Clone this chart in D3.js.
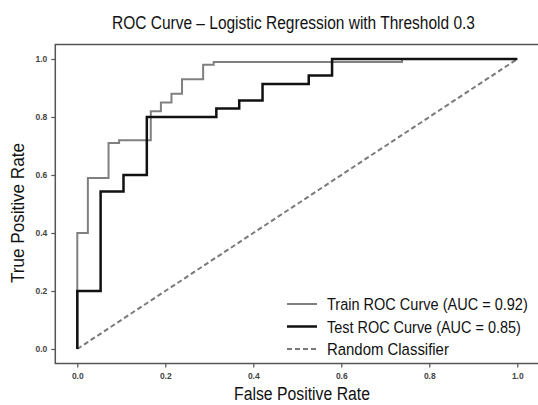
<!DOCTYPE html>
<html><head><meta charset="utf-8">
<script src="https://cdn.jsdelivr.net/npm/d3@7"></script>
<style>body{margin:0;background:#fff}svg{display:block}</style>
</head><body>
<script>
const trainFpr = [0,0,0.024,0.024,0.071,0.071,0.095,0.095,0.167,0.167,0.19,0.19,0.214,0.214,0.238,0.238,0.286,0.286,0.31,0.31,0.738,0.738,1];
const trainTpr = [0,0.40,0.40,0.59,0.59,0.71,0.71,0.72,0.72,0.82,0.82,0.85,0.85,0.88,0.88,0.93,0.93,0.98,0.98,0.99,0.99,1,1];
const testFpr = [0,0,0.053,0.053,0.105,0.105,0.158,0.158,0.316,0.316,0.368,0.368,0.421,0.421,0.526,0.526,0.579,0.579,1];
const testTpr = [0,0.2,0.2,0.543,0.543,0.6,0.6,0.8,0.8,0.829,0.829,0.857,0.857,0.914,0.914,0.943,0.943,1,1];
const randomFpr = [0,1];
const randomTpr = [0,1];
const tickValues = [0,0.2,0.4,0.6,0.8,1.0];
const legendLabels = ["Train ROC Curve (AUC = 0.92)","Test ROC Curve (AUC = 0.85)","Random Classifier"];
const titleText = "ROC Curve \u2013 Logistic Regression with Threshold 0.3";
const xLabel = "False Positive Rate";
const yLabel = "True Positive Rate";

const W = 538, H = 405;
const svg = d3.select("body").append("svg").attr("width", W).attr("height", H);
const x = d3.scaleLinear().domain([-0.05, 1.05]).range([55.3, 539.3]);
const y = d3.scaleLinear().domain([-0.05, 1.05]).range([363.5, 44.5]);
const font = "'Liberation Sans', Arial, sans-serif";

// frame
svg.append("rect").attr("x", x(-0.05)).attr("y", y(1.05))
  .attr("width", x(1.05) - x(-0.05)).attr("height", y(-0.05) - y(1.05))
  .attr("fill", "none").attr("stroke", "#555").attr("stroke-width", 1.5);

// axes
const xAxis = svg.append("g").attr("transform", `translate(0,${y(-0.05)})`)
  .call(d3.axisBottom(x).tickValues(tickValues).tickFormat(d3.format(".1f")).tickSize(4).tickPadding(5));
const yAxis = svg.append("g").attr("transform", `translate(${x(-0.05)},0)`)
  .call(d3.axisLeft(y).tickValues(tickValues).tickFormat(d3.format(".1f")).tickSize(4).tickPadding(4));
[xAxis, yAxis].forEach(g => {
  g.select(".domain").remove();
  g.selectAll(".tick line").attr("stroke", "#555").attr("stroke-width", 1.2);
  g.selectAll(".tick text").attr("fill", "#444").attr("font-family", font)
    .attr("font-size", 8.5).attr("font-weight", "bold");
});

const pts = (fx, fy) => fx.map((v, i) => [v, fy[i]]);
const line = d3.line().x(d => x(d[0])).y(d => y(d[1]));

svg.append("path").attr("d", line(pts(randomFpr, randomTpr)))
  .attr("fill", "none").attr("stroke", "#7a7a7a").attr("stroke-width", 2).attr("stroke-dasharray", "5,3");
svg.append("path").attr("d", line(pts(trainFpr, trainTpr)))
  .attr("fill", "none").attr("stroke", "#808080").attr("stroke-width", 2);
svg.append("path").attr("d", line(pts(testFpr, testTpr)))
  .attr("fill", "none").attr("stroke", "#111").attr("stroke-width", 2.5);

// text placed in a group, horizontally scaled to fit the narrow lettering of the reference
function placeText(parent, tx, ty, rot, anchor, size, str, maxW) {
  const g = parent.append("g");
  const t = g.append("text").attr("text-anchor", anchor).attr("font-family", font)
    .attr("font-size", size).attr("fill", "#111").text(str);
  const len = t.node().getComputedTextLength();
  const s = len > maxW ? maxW / len : 1;
  g.attr("transform", `translate(${tx},${ty}) rotate(${rot}) scale(${s},1)`);
  return g;
}
placeText(svg, 293.5, 29, 0, "middle", 19, titleText, 363);
placeText(svg, 302, 400, 0, "middle", 19, xLabel, 136);
placeText(svg, 24, 213, -90, "middle", 19, yLabel, 140);

// legend
const legStyles = [
  {stroke: "#808080", w: 2, dash: null},
  {stroke: "#111", w: 2.5, dash: null},
  {stroke: "#7a7a7a", w: 2, dash: "5,3"}
];
const legWidths = [201, 194, 122];
const legY = d3.scaleLinear().domain([0, 2]).range([304, 349]);
legendLabels.forEach((lab, i) => {
  const g = svg.append("g").attr("transform", `translate(0,${legY(i)})`);
  g.append("line").attr("x1", 287).attr("x2", 317).attr("y1", 0).attr("y2", 0)
    .attr("stroke", legStyles[i].stroke).attr("stroke-width", legStyles[i].w)
    .attr("stroke-dasharray", legStyles[i].dash);
  placeText(g, 327, 6, 0, "start", 17, lab, legWidths[i]);
});
</script>
</body></html>
